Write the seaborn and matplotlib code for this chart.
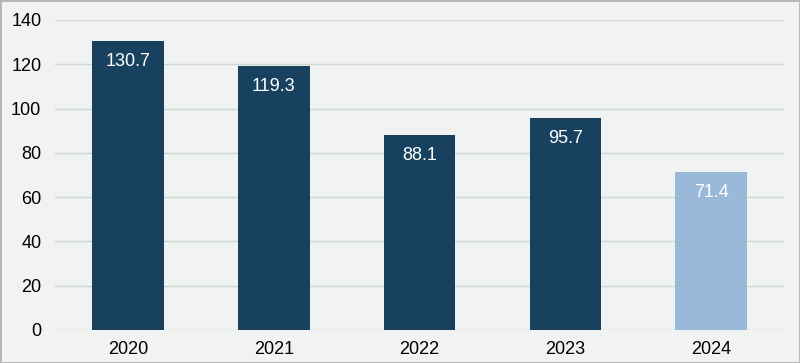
import matplotlib.pyplot as plt
import seaborn as sns
import pandas as pd
from matplotlib.patches import Rectangle

years = ["2020", "2021", "2022", "2023", "2024"]
values = [130.7, 119.3, 88.1, 95.7, 71.4]
bar_colors = ["#17415f", "#17415f", "#17415f", "#17415f", "#9ab8d8"]

df = pd.DataFrame({"year": years, "value": values})

sns.set_style("white")
plt.rcParams["font.family"] = ["Liberation Sans", "DejaVu Sans"]

bg = "#f0f3f1"
fig = plt.figure(figsize=(8, 3.63), dpi=100, facecolor=bg)
ax = fig.add_axes([0.069, 0.091, 0.911, 0.854])
ax.set_facecolor(bg)

sns.barplot(data=df, x="year", y="value", hue="year", palette=bar_colors,
            legend=False, width=0.49, saturation=1, linewidth=0, ax=ax, zorder=3)

# value labels inside the bars
for i, v in enumerate(values):
    ax.annotate(f"{v:.1f}", (i, v), xytext=(0, -15), textcoords="offset points",
                ha="center", va="center", color="white", fontsize=13, zorder=4)

ax.set_ylim(0, 140)
ax.set_yticks(range(0, 141, 20))
ax.yaxis.grid(True, color="#d0d5d2", linewidth=1, zorder=0)
ax.set_axisbelow(True)
ax.set_xlabel("")
ax.set_ylabel("")
ax.tick_params(axis="both", length=0, labelsize=13, colors="black")
ax.tick_params(axis="y", pad=10)
ax.tick_params(axis="x", pad=8)
for s in ax.spines.values():
    s.set_visible(False)

# figure border
fig.patches.append(Rectangle((0, 0), 1, 1, transform=fig.transFigure,
                             fill=False, edgecolor="#b4b4b4", linewidth=2))

fig.savefig("out.png", dpi=100, facecolor=bg)
